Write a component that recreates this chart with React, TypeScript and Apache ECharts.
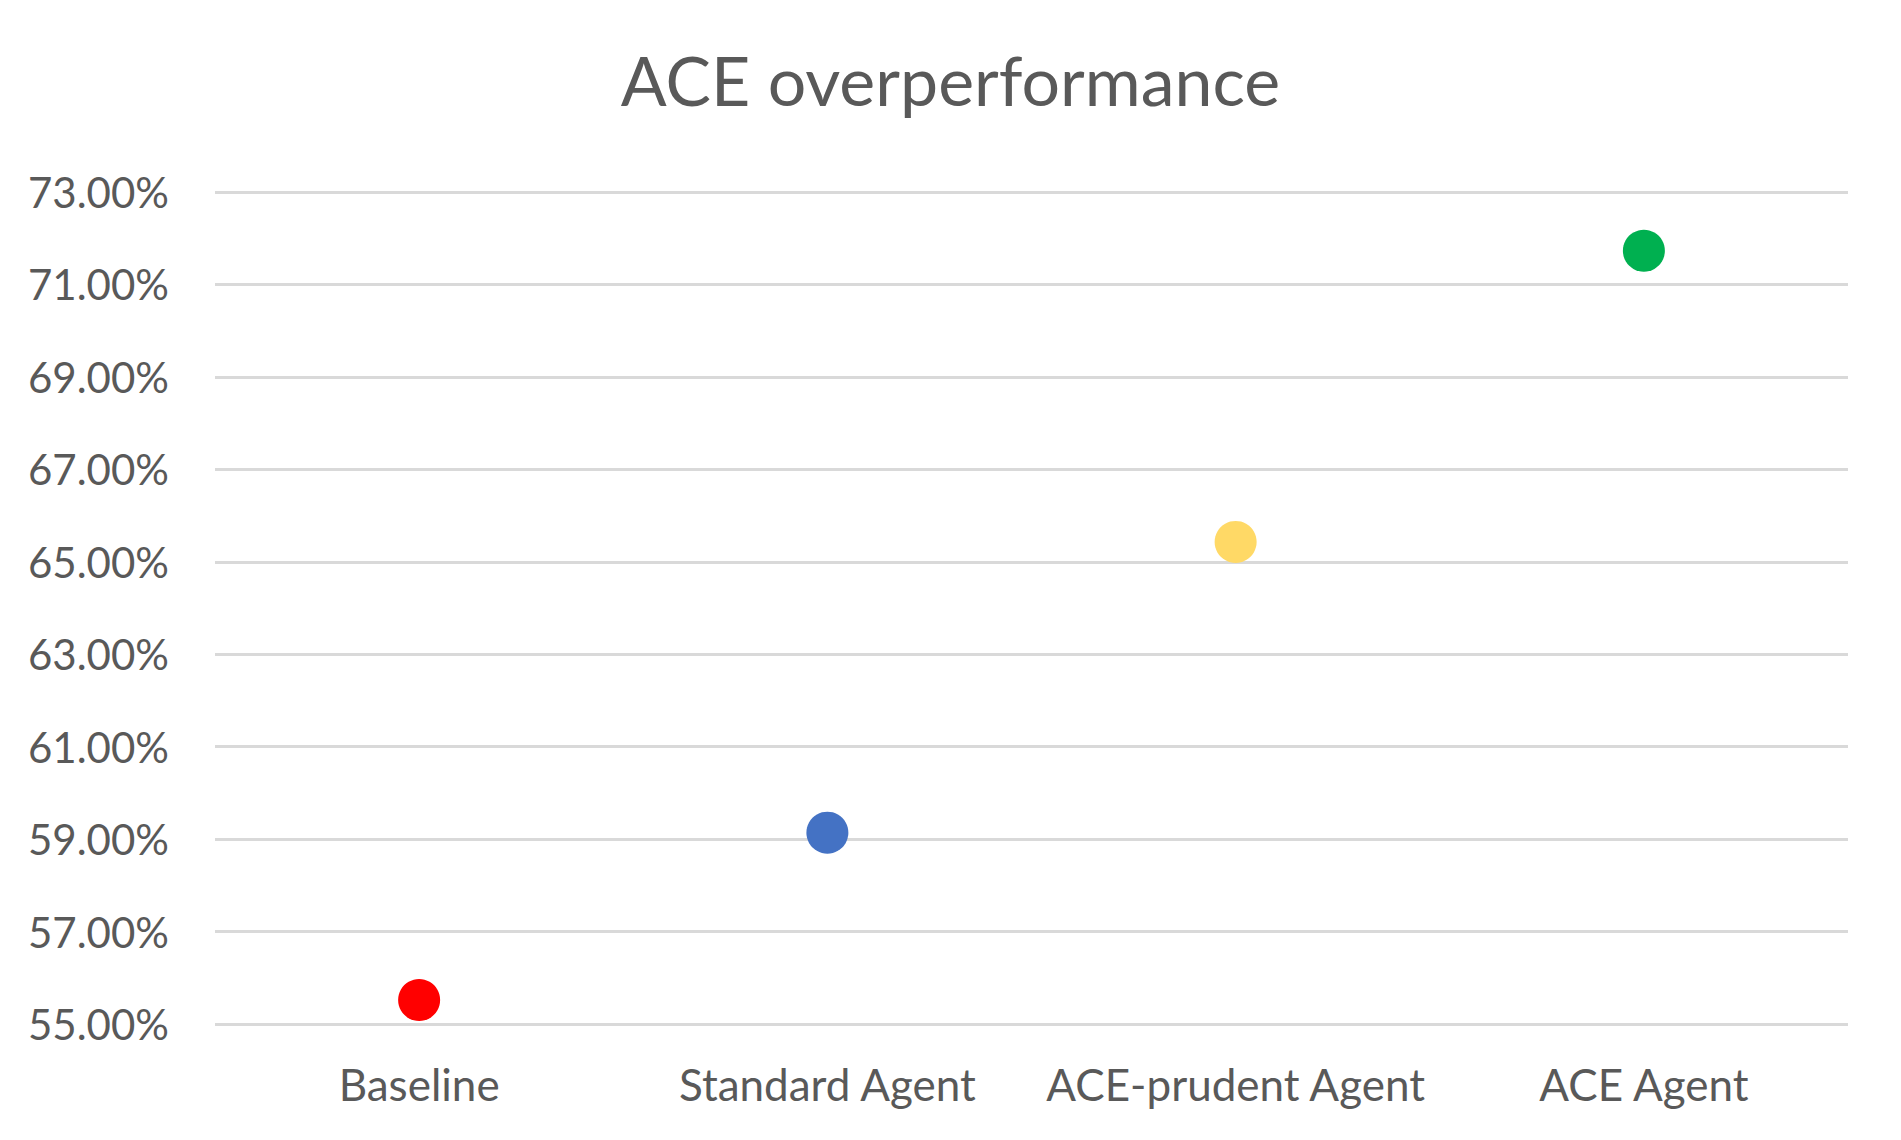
import React, { useEffect, useRef } from "react";
import * as echarts from "echarts";

const categories = ["Baseline", "Standard Agent", "ACE-prudent Agent", "ACE Agent"];
const values = [55.52, 59.14, 65.43, 71.73];
const pointColors = ["#FF0000", "#4472C4", "#FFD966", "#00B050"];
const yMin = 55;
const yMax = 73;
const yStep = 2;
const titleText = "ACE overperformance";

const FONT = "Lato, 'Open Sans', sans-serif";

export default function App() {
  const ref = useRef<HTMLDivElement>(null);
  useEffect(() => {
    if (!ref.current) return;
    const chart = echarts.init(ref.current, null, { renderer: "svg" });
    chart.setOption({
      animation: false,
      backgroundColor: "#FFFFFF",
      title: {
        text: titleText,
        left: "center",
        top: 40,
        textStyle: { color: "#595959", fontSize: 68, fontWeight: "normal", fontFamily: FONT },
      },
      grid: { left: 215, right: 53, top: 192, bottom: 116, containLabel: false },
      xAxis: {
        type: "category",
        data: categories,
        boundaryGap: true,
        axisLine: { show: false },
        axisTick: { show: false },
        splitLine: { show: false },
        axisLabel: {
          interval: 0,
          color: "#595959",
          fontSize: 44,
          fontFamily: FONT,
          margin: 38,
        },
      },
      yAxis: {
        type: "value",
        min: yMin,
        max: yMax,
        interval: yStep,
        axisLine: { show: false },
        axisTick: { show: false },
        axisLabel: {
          color: "#595959",
          fontSize: 42,
          fontFamily: FONT,
          margin: 46,
          formatter: (v: number) => v.toFixed(2) + "%",
        },
        splitLine: { show: true, lineStyle: { color: "#D9D9D9", width: 3 } },
      },
      series: [
        {
          type: "scatter",
          symbol: "circle",
          symbolSize: 42,
          itemStyle: { opacity: 1 },
          emphasis: { disabled: true },
          data: values.map((v, i) => ({ value: v, itemStyle: { color: pointColors[i], opacity: 1 } })),
        },
      ],
    });
    return () => chart.dispose();
  }, []);
  return (
    <div
      ref={ref}
      style={{ position: "fixed", left: 0, top: 0, width: 1901, height: 1140 }}
    />
  );
}
